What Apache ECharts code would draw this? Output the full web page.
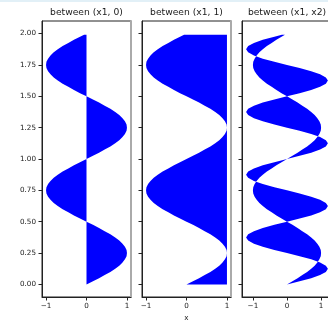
<!DOCTYPE html>
<html>
<head>
<meta charset="utf-8">
<script src="https://cdn.jsdelivr.net/npm/echarts@6/dist/echarts.min.js"></script>
<style>
html,body{margin:0;padding:0;background:#fff;}
#main{width:328px;height:322px;}
</style>
</head>
<body>
<div id="main"></div>
<script>
// y samples (0 .. 1.99)
var ys = [0,0.025,0.05,0.075,0.1,0.125,0.15,0.175,0.2,0.225,0.25,0.275,0.3,0.325,0.35,0.375,0.4,0.425,0.45,0.475,
    0.5,0.525,0.55,0.575,0.6,0.625,0.65,0.675,0.7,0.725,0.75,0.775,0.8,0.825,0.85,0.875,0.9,0.925,0.95,0.975,
    1,1.025,1.05,1.075,1.1,1.125,1.15,1.175,1.2,1.225,1.25,1.275,1.3,1.325,1.35,1.375,1.4,1.425,1.45,1.475,
    1.5,1.525,1.55,1.575,1.6,1.625,1.65,1.675,1.7,1.725,1.75,1.775,1.8,1.825,1.85,1.875,1.9,1.925,1.95,1.975,1.99];
var x1 = [0,0.16,0.31,0.45,0.59,0.71,0.81,0.89,0.95,0.99,1,0.99,0.95,0.89,0.81,0.71,0.59,0.45,0.31,0.16,
    0,-0.16,-0.31,-0.45,-0.59,-0.71,-0.81,-0.89,-0.95,-0.99,-1,-0.99,-0.95,-0.89,-0.81,-0.71,-0.59,-0.45,-0.31,-0.16,
    0,0.16,0.31,0.45,0.59,0.71,0.81,0.89,0.95,0.99,1,0.99,0.95,0.89,0.81,0.71,0.59,0.45,0.31,0.16,
    0,-0.16,-0.31,-0.45,-0.59,-0.71,-0.81,-0.89,-0.95,-0.99,-1,-0.99,-0.95,-0.89,-0.81,-0.71,-0.59,-0.45,-0.31,-0.16,-0.06];
var x2 = [0,0.37,0.71,0.97,1.14,1.2,1.14,0.97,0.71,0.37,0,-0.37,-0.71,-0.97,-1.14,-1.2,-1.14,-0.97,-0.71,-0.37,
    0,0.37,0.71,0.97,1.14,1.2,1.14,0.97,0.71,0.37,0,-0.37,-0.71,-0.97,-1.14,-1.2,-1.14,-0.97,-0.71,-0.37,
    0,0.37,0.71,0.97,1.14,1.2,1.14,0.97,0.71,0.37,0,-0.37,-0.71,-0.97,-1.14,-1.2,-1.14,-0.97,-0.71,-0.37,
    0,0.37,0.71,0.97,1.14,1.2,1.14,0.97,0.71,0.37,0,-0.37,-0.71,-0.97,-1.14,-1.2,-1.14,-0.97,-0.71,-0.37,-0.15];
var titles = ['between (x1, 0)', 'between (x1, 1)', 'between (x1, x2)'];
var yTicks = [0,0.25,0.5,0.75,1,1.25,1.5,1.75,2];
var xTicks = [-1,0,1];

var zeros = ys.map(function () { return 0; });
var ones = ys.map(function () { return 1; });
var pairs = [[x1, zeros], [x1, ones], [x1, x2]];

var gridLeft = [42, 142, 242];
var gridW = [89, 89, 90];
var xRange = [1.1, 1.1, 1.32];
var txt = '#1a1a1a';
var font = 'DejaVu Sans';

var makeFill = function (xa, xb) {
    return function (params, api) {
        if (params.dataIndex !== 0) return null;
        var pts = [];
        for (var i = 0; i < ys.length; i++) pts.push(api.coord([xa[i], ys[i]]));
        for (var j = ys.length - 1; j >= 0; j--) pts.push(api.coord([xb[j], ys[j]]));
        return {type: 'polygon', shape: {points: pts}, style: {fill: '#0000ff'}};
    };
};

var option = {
    animation: false,
    backgroundColor: '#fff',
    grid: [], xAxis: [], yAxis: [], series: [],
    graphic: [{type: 'rect', left: 0, top: 0, shape: {width: 328, height: 2}, style: {fill: '#e2f0f7'}}]
};

for (var k = 0; k < 3; k++) {
    option.graphic.push({
        type: 'text', x: gridLeft[k] + gridW[k] / 2, y: 13,
        style: {text: titles[k], fill: txt, font: '9.2px "DejaVu Sans"', textAlign: 'center', textVerticalAlign: 'middle'}
    });
    option.grid.push({
        left: gridLeft[k], top: 21, width: gridW[k], height: 276,
        outerBoundsMode: 'none', containLabel: false,
        show: true, borderColor: '#222', borderWidth: 1, backgroundColor: 'transparent'
    });
    option.xAxis.push({
        type: 'value', gridIndex: k, min: -xRange[k], max: xRange[k],
        name: k === 1 ? 'x' : '', nameLocation: 'middle', nameGap: 18,
        nameTextStyle: {fontFamily: font, fontSize: 7.2, color: txt},
        axisLine: {show: true, onZero: false, lineStyle: {color: '#222', width: 1}},
        axisTick: {show: true, length: 3.5, customValues: xTicks, lineStyle: {color: '#222'}},
        axisLabel: {show: true, customValues: xTicks, margin: 5.5, fontFamily: font, fontSize: 7.2, color: txt,
            formatter: function (v) { return v < 0 ? '\u2212' + Math.abs(v) : String(v); }},
        splitLine: {show: false}
    });
    option.yAxis.push({
        type: 'value', gridIndex: k, min: -0.1, max: 2.1,
        axisLine: {show: true, onZero: false, lineStyle: {color: '#222', width: 1}},
        axisTick: {show: true, length: 3.5, customValues: yTicks, lineStyle: {color: '#222'}},
        axisLabel: {show: k === 0, customValues: yTicks, margin: 6, fontFamily: font, fontSize: 7.2, color: txt,
            formatter: function (v) { return v.toFixed(2); }},
        splitLine: {show: false}
    });
    // gray right spine
    option.yAxis.push({
        type: 'value', gridIndex: k, position: 'right', min: -0.1, max: 2.1,
        axisLine: {show: true, onZero: false, lineStyle: {color: '#aaa', width: 2}},
        axisTick: {show: false}, axisLabel: {show: false}, splitLine: {show: false}
    });
    option.series.push({
        type: 'custom', xAxisIndex: k, yAxisIndex: k * 2,
        data: ys.map(function (y, i) { return [x1[i], y]; }),
        encode: {x: 0, y: 1},
        renderItem: makeFill(pairs[k][0], pairs[k][1]),
        silent: true, z: 1
    });
}

var chart = echarts.init(document.getElementById('main'), null, {renderer: 'canvas'});
chart.setOption(option);
</script>
</body>
</html>
